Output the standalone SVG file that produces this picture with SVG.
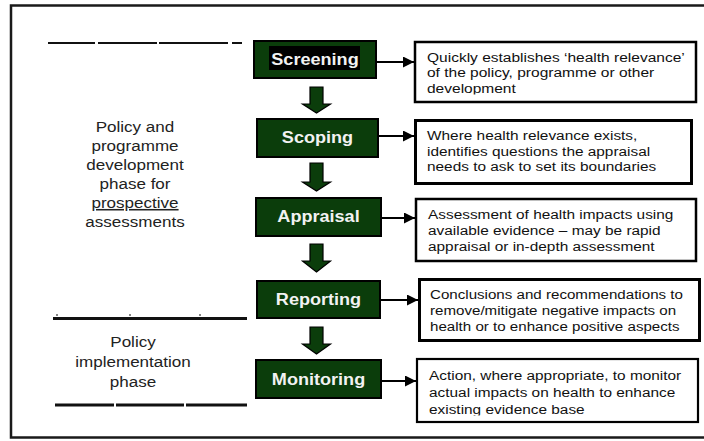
<svg xmlns="http://www.w3.org/2000/svg" width="704" height="441" viewBox="0 0 704 441">
<style>
.frame{fill:#fff;stroke:#1a1a1a;stroke-width:2.5}
.node{fill:#0b3d0b;stroke:#000;stroke-width:2}
.label{font-family:"Liberation Sans",Arial,sans-serif;font-weight:bold;font-size:16px;fill:#f2f2f2;text-anchor:middle}
.dbox{fill:#fff;stroke:#000}
.dtext{font-family:"Liberation Sans",Arial,sans-serif;font-size:13.5px;fill:#111}
.side{font-family:"Liberation Sans",Arial,sans-serif;font-size:15.5px;fill:#222;text-anchor:middle}
.down{fill:#0b3d0b;stroke:#000;stroke-width:1.2}
.conn{stroke:#000;stroke-width:1.8;fill:none;marker-end:url(#ah)}
.div{stroke:#111;fill:none}
</style>
<defs>
<marker id="ah" viewBox="0 0 12 12" refX="12" refY="6" markerWidth="13" markerHeight="11" markerUnits="userSpaceOnUse" orient="auto">
<path d="M0,0 L12,6 L0,12 z" fill="#000"/>
</marker>
<clipPath id="clip1" clipPathUnits="userSpaceOnUse"><rect x="420" y="40" width="275" height="54.5"/></clipPath>
<clipPath id="clip5" clipPathUnits="userSpaceOnUse"><rect x="420" y="360" width="275" height="55.5"/></clipPath>
</defs>
<rect class="frame" x="11" y="5.5" width="700" height="432"/>

<g id="dividers">
<path class="div" stroke-width="1.8" d="M48,43H95M98,43H157M159,43H228M232,43H242"/>
<path class="div" stroke-width="3" d="M53,318.5H247"/>
<path class="div" stroke-width="1" d="M57,316V314M130,316V314M200,316V314"/>
<path class="div" stroke-width="3" d="M55,405H114M116,405H184M186,405H247"/>
</g>

<g id="phase-development">
<g transform="translate(135 0) scale(1.1 1)">
<text class="side" x="0" y="132">Policy and</text>
<text class="side" x="0" y="151">programme</text>
<text class="side" x="0" y="170">development</text>
<text class="side" x="0" y="189">phase for</text>
<text class="side" x="0" y="208" text-decoration="underline">prospective</text>
<text class="side" x="0" y="227">assessments</text>
</g>
</g>
<g id="phase-implementation">
<g transform="translate(133 0) scale(1.1 1)">
<text class="side" x="0" y="347">Policy</text>
<text class="side" x="0" y="367">implementation</text>
<text class="side" x="0" y="387">phase</text>
</g>
</g>

<g id="screening">
<rect class="node" x="254" y="41" width="122" height="37"/>
<rect x="269" y="46" width="91" height="24" fill="#000"/>
<text class="label" transform="translate(315 65) scale(1.13 1)">Screening</text>
</g>
<g id="scoping">
<rect class="node" x="257" y="119" width="121" height="38"/>
<text class="label" transform="translate(317.5 143) scale(1.13 1)">Scoping</text>
</g>
<g id="appraisal">
<rect class="node" x="256" y="198" width="125" height="38"/>
<text class="label" transform="translate(318.5 222) scale(1.13 1)">Appraisal</text>
</g>
<g id="reporting">
<rect class="node" x="257" y="281" width="123" height="37"/>
<text class="label" transform="translate(318.5 305) scale(1.13 1)">Reporting</text>
</g>
<g id="monitoring">
<rect class="node" x="256" y="360" width="125" height="38"/>
<text class="label" transform="translate(318.5 385) scale(1.13 1)">Monitoring</text>
</g>

<g id="desc-screening">
<rect class="dbox" stroke-width="2.5" x="415" y="42" width="281" height="60"/>
<g clip-path="url(#clip1)">
<g transform="translate(427 0) scale(1.15 1)">
<text class="dtext" x="0" y="62">Quickly establishes ‘health relevance’</text>
<text class="dtext" x="0" y="77.5">of the policy, programme or other</text>
<text class="dtext" x="0" y="93">development</text>
</g>
</g>
</g>
<g id="desc-scoping">
<rect class="dbox" stroke-width="3" x="415.5" y="120.5" width="276" height="63"/>
<g transform="translate(427 0) scale(1.14 1)">
<text class="dtext" x="0" y="140">Where health relevance exists,</text>
<text class="dtext" x="0" y="156">identifies questions the appraisal</text>
<text class="dtext" x="0" y="171.5">needs to ask to set its boundaries</text>
</g>
</g>
<g id="desc-appraisal">
<rect class="dbox" stroke-width="2.5" x="416" y="199" width="280" height="62"/>
<g transform="translate(428 0) scale(1.14 1)">
<text class="dtext" x="0" y="219">Assessment of health impacts using</text>
<text class="dtext" x="0" y="235">available evidence – may be rapid</text>
<text class="dtext" x="0" y="251">appraisal or in-depth assessment</text>
</g>
</g>
<g id="desc-reporting">
<rect class="dbox" stroke-width="3" x="419.5" y="279.5" width="280" height="61"/>
<g transform="translate(430 0) scale(1.12 1)">
<text class="dtext" x="0" y="299">Conclusions and recommendations to</text>
<text class="dtext" x="0" y="315">remove/mitigate negative impacts on</text>
<text class="dtext" x="0" y="331">health or to enhance positive aspects</text>
</g>
</g>
<g id="desc-monitoring">
<rect class="dbox" stroke-width="2.2" x="417" y="359" width="281" height="63"/>
<g clip-path="url(#clip5)">
<g transform="translate(429 0) scale(1.14 1)">
<text class="dtext" x="0" y="380">Action, where appropriate, to monitor</text>
<text class="dtext" x="0" y="397">actual impacts on health to enhance</text>
<text class="dtext" x="0" y="414">existing evidence base</text>
</g>
</g>
</g>

<g id="connectors">
<polygon class="down" points="310,87 323,87 323,104 330.5,104 316.5,113 302.5,104 310,104"/>
<polygon class="down" points="310,163 323,163 323,182 330.5,182 316.5,191 302.5,182 310,182"/>
<polygon class="down" points="310,244 323,244 323,261 330.5,261 316.5,272 302.5,261 310,261"/>
<polygon class="down" points="310,327 323,327 323,344 330.5,344 316.5,354 302.5,344 310,344"/>
<line class="conn" x1="377" y1="62" x2="414" y2="62"/>
<line class="conn" x1="379" y1="136" x2="414" y2="136"/>
<line class="conn" x1="382" y1="218" x2="415" y2="218"/>
<line class="conn" x1="381" y1="300" x2="418" y2="300"/>
<line class="conn" x1="382" y1="381" x2="416" y2="381"/>
</g>
</svg>
